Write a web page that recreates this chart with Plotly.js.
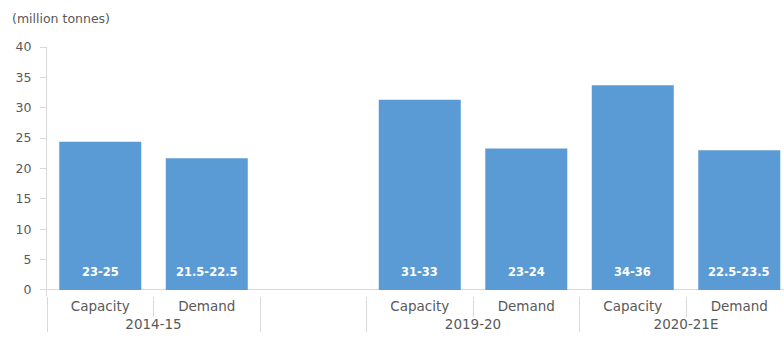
<!DOCTYPE html>
<html>
<head>
<meta charset="utf-8">
<script src="https://cdn.plot.ly/plotly-3.0.1.min.js"></script>
<style>html,body{margin:0;padding:0;background:#fff;}#chart{width:784px;height:340px;}</style>
</head>
<body>
<div id="chart"></div>
<script>
var periods = ["2014-15", "2014-15", " ", "2019-20", "2019-20", "2020-21E", "2020-21E"];
var measures = ["Capacity", "Demand", " ", "Capacity", "Demand", "Capacity", "Demand"];
var values = [24.4, 21.7, null, 31.3, 23.3, 33.7, 23.0];
var rangeLabels = ["23-25", "21.5-22.5", "", "31-33", "23-24", "34-36", "22.5-23.5"];
var yTicks = [0, 5, 10, 15, 20, 25, 30, 35, 40];

var FONT = "DejaVu Sans, Verdana, sans-serif";

var trace = {
  type: "bar",
  x: [periods, measures],
  y: values,
  marker: {color: "#5B9BD5", line: {width: 0}},
  hoverinfo: "none"
};

var labelAnnotations = [];
rangeLabels.forEach(function (s, i) {
  if (!s) return;
  labelAnnotations.push({
    xref: "x", yref: "y", x: i, y: 0,
    yanchor: "bottom", xanchor: "center", yshift: 9,
    text: "<b>" + s + "</b>", showarrow: false,
    font: {family: FONT, size: 11.5, color: "#ffffff"}
  });
});

var layout = {
  width: 784, height: 340,
  margin: {l: 47, r: 0, t: 47, b: 44, pad: 0},
  paper_bgcolor: "#ffffff", plot_bgcolor: "#ffffff",
  font: {family: FONT, size: 12.5, color: "#595959"},
  showlegend: false,
  bargap: 0.23,
  title: {text: "(million tonnes)", x: 12/784, xref: "container", xanchor: "left",
          y: 1 - 19/340, yref: "container", yanchor: "middle",
          font: {family: FONT, size: 12.5, color: "#595959"}},
  annotations: labelAnnotations,
  xaxis: {
    type: "multicategory",
    range: [-0.5, 6.42],
    showline: false,
    ticks: "outside", tickson: "boundaries", ticklen: 20, tickcolor: "#d9d9d9",
    showdividers: true, dividercolor: "#d9d9d9", dividerwidth: 1,
    tickfont: {family: FONT, size: 13.5, color: "#595959"},
    showgrid: false, zeroline: false, fixedrange: true
  },
  yaxis: {
    range: [-1, 40],
    tickvals: yTicks,
    showline: true, linecolor: "#d9d9d9", linewidth: 1,
    ticks: "outside", ticklen: 6, tickcolor: "#d9d9d9",
    ticklabelstandoff: 6,
    zeroline: true, zerolinecolor: "#d9d9d9", zerolinewidth: 1,
    tickfont: {family: FONT, size: 12.5, color: "#595959"},
    showgrid: false, fixedrange: true
  }
};

Plotly.newPlot("chart", [trace], layout, {staticPlot: true, displayModeBar: false});
</script>
</body>
</html>
